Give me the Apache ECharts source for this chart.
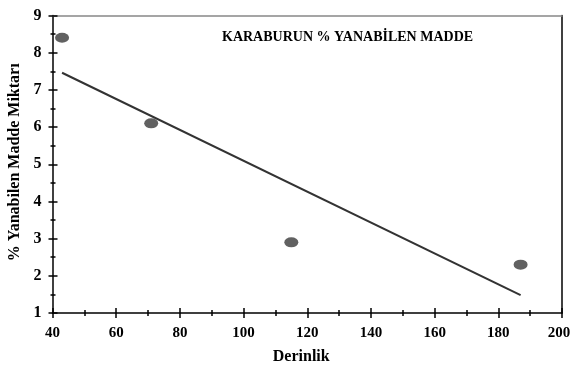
<!DOCTYPE html>
<html>
<head>
<meta charset="utf-8">
<script src="https://cdn.jsdelivr.net/npm/echarts@6/dist/echarts.min.js"></script>
<style>
  html, body { margin: 0; padding: 0; background: #fff; }
  #main { width: 571px; height: 365px; }
</style>
</head>
<body>
<div id="main"></div>
<script>
var depth = [43, 71, 115, 187];
var amount = [8.4, 6.1, 2.9, 2.3];
// trend line end points
var trendX = [43, 187];
var trendY = [7.46, 1.48];
var xTicks = [40, 60, 80, 100, 120, 140, 160, 180, 200];
var yTicks = [1, 2, 3, 4, 5, 6, 7, 8, 9];

window.onload = function () {
    var myChart = echarts.init(document.getElementById('main'));
    var font = 'Liberation Serif';
    var gridPos = { left: 52.5, right: 9, top: 15.5, bottom: 52, outerBoundsMode: 'none' };
    var xMax = xTicks[xTicks.length - 1];

    var option = {
        animation: false,
        backgroundColor: '#fff',
        title: {
            text: 'KARABURUN % YANABİLEN MADDE',
            left: 217, top: 25,
            textStyle: { fontFamily: font, fontWeight: 'bold', fontSize: 14, color: '#000' }
        },
        grid: [
            Object.assign({}, gridPos),
            Object.assign({}, gridPos)
        ],
        xAxis: [
            {
                gridIndex: 0, type: 'value', position: 'bottom',
                min: xTicks[0], max: xMax, interval: 20,
                name: 'Derinlik', nameLocation: 'middle', nameGap: 36,
                nameTextStyle: { fontFamily: font, fontWeight: 'bold', fontSize: 16, color: '#000', padding: [0, 12, 0, 0] },
                axisLine: { lineStyle: { color: '#000', width: 1.5 } },
                axisTick: { inside: false, length: 5, lineStyle: { color: '#000', width: 1.5 } },
                minorTick: { show: true, splitNumber: 2, length: 3, lineStyle: { color: '#000', width: 1.5 } },
                axisLabel: {
                    margin: 13, fontFamily: font, fontWeight: 'bold', fontSize: 15, color: '#000',
                    formatter: function (v) {
                        return v === xMax ? '{last|' + v + '}' : String(v);
                    },
                    rich: {
                        last: { fontFamily: font, fontWeight: 'bold', fontSize: 15, color: '#000', padding: [0, 6, 0, 0] }
                    }
                },
                splitLine: { show: false }
            },
            {
                gridIndex: 0, type: 'value', position: 'top',
                min: 40, max: 200, interval: 20,
                axisLine: { lineStyle: { color: '#888', width: 1.5 } },
                axisTick: { show: false }, axisLabel: { show: false }, splitLine: { show: false }
            },
            {
                gridIndex: 1, type: 'value', position: 'bottom',
                min: 40, max: 200, interval: 20,
                axisLine: { show: false },
                axisTick: { inside: true, length: 5, lineStyle: { color: '#000', width: 1.5 } },
                minorTick: { show: true, splitNumber: 2, length: 3, lineStyle: { color: '#000', width: 1.5 } },
                axisLabel: { show: false }, splitLine: { show: false }
            }
        ],
        yAxis: [
            {
                gridIndex: 0, type: 'value', position: 'left',
                min: yTicks[0], max: yTicks[yTicks.length - 1], interval: 1,
                name: '% Yanabilen Madde Miktarı', nameLocation: 'middle', nameGap: 30,
                nameTextStyle: { fontFamily: font, fontWeight: 'bold', fontSize: 16, color: '#000', padding: [0, 0, 0, 4] },
                axisLine: { lineStyle: { color: '#000', width: 1.5 } },
                axisTick: { inside: false, length: 4, lineStyle: { color: '#000', width: 1.5 } },
                minorTick: { show: true, splitNumber: 2, length: 2, lineStyle: { color: '#000', width: 1.5 } },
                axisLabel: { margin: 11, fontFamily: font, fontWeight: 'bold', fontSize: 16, color: '#000' },
                splitLine: { show: false }
            },
            {
                gridIndex: 0, type: 'value', position: 'right',
                min: 1, max: 9, interval: 1,
                axisLine: { lineStyle: { color: '#000', width: 1.5 } },
                axisTick: { show: false }, axisLabel: { show: false }, splitLine: { show: false }
            },
            {
                gridIndex: 1, type: 'value', position: 'left',
                min: 1, max: 9, interval: 1,
                axisLine: { show: false },
                axisTick: { inside: true, length: 5, lineStyle: { color: '#000', width: 1.5 } },
                minorTick: { show: true, splitNumber: 2, length: 3, lineStyle: { color: '#000', width: 1.5 } },
                axisLabel: { show: false }, splitLine: { show: false }
            }
        ],
        series: [
            {
                type: 'line',
                xAxisIndex: 0, yAxisIndex: 0,
                data: trendX.map(function (x, i) { return [x, trendY[i]]; }),
                symbol: 'none',
                lineStyle: { color: '#333', width: 2 }
            },
            {
                type: 'scatter',
                xAxisIndex: 0, yAxisIndex: 0,
                data: depth.map(function (x, i) { return [x, amount[i]]; }),
                symbol: 'circle',
                symbolSize: [14, 10],
                itemStyle: { color: '#3a3a3a' }
            }
        ]
    };
    myChart.setOption(option);
    window.addEventListener('resize', function () {
        myChart.resize();
    });
};
</script>
</body>
</html>
